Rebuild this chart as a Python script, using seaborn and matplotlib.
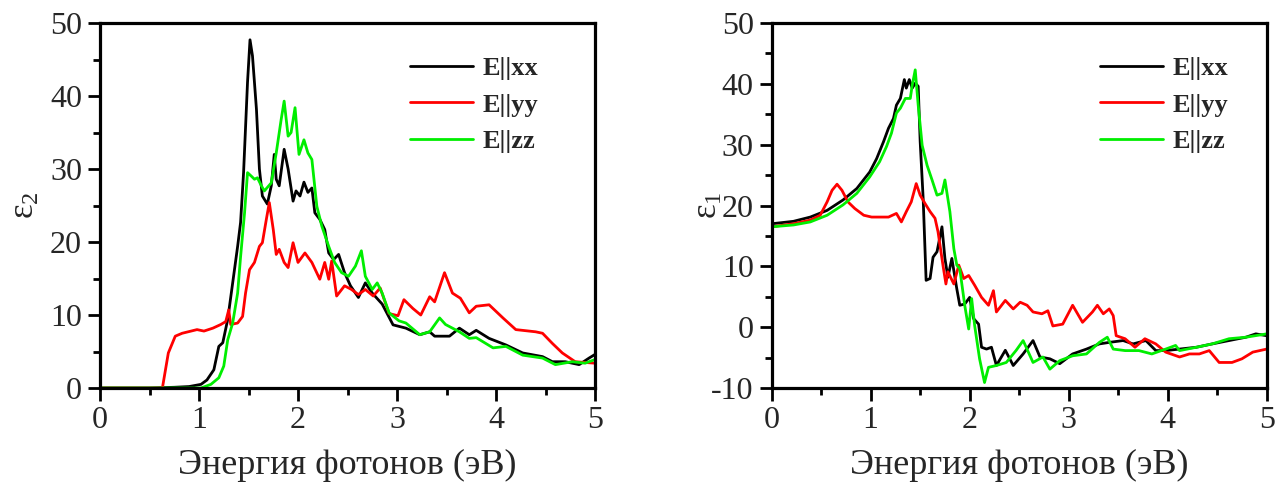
import matplotlib
matplotlib.use("Agg")
import matplotlib.pyplot as plt
import seaborn as sns
import pandas as pd
from matplotlib.ticker import MultipleLocator

# ---------------- data: eps2 (left panel) ----------------
e2_xx_E = [0, 0.5, 0.75, 0.9, 1.02, 1.08, 1.15, 1.2, 1.24, 1.29, 1.34, 1.39, 1.42, 1.45, 1.49, 1.515, 1.54,
           1.58, 1.61, 1.64, 1.69, 1.73, 1.76, 1.78, 1.81, 1.86, 1.90, 1.95, 1.98, 2.02, 2.06, 2.10, 2.14,
           2.17, 2.22, 2.27, 2.31, 2.36, 2.41, 2.47, 2.53, 2.61, 2.68, 2.75, 2.85, 2.96, 3.09, 3.23, 3.33,
           3.38, 3.53, 3.63, 3.73, 3.80, 3.93, 4.10, 4.27, 4.47, 4.57, 4.70, 4.84, 4.94, 5.0]
e2_xx = [0, 0, 0.1, 0.2, 0.5, 1.1, 2.5, 5.7, 6.2, 9.4, 14.4, 19.4, 22.7, 29.5, 41.9, 47.7, 45.5,
         38.2, 30, 26.3, 25.2, 27.7, 32, 28.6, 27.7, 32.7, 30, 25.6, 27, 26.3, 28.2, 26.8, 27.4,
         24, 23.1, 21.7, 18.5, 17.6, 18.3, 15.8, 14, 12.4, 14.4, 13, 11.5, 8.65, 8.2, 7.3, 7.7,
         7.1, 7.1, 8.2, 7.3, 7.9, 6.8, 5.9, 4.8, 4.3, 3.6, 3.6, 3.2, 4.1, 4.6]

e2_yy_E = [0, 0.3, 0.63, 0.65, 0.69, 0.76, 0.83, 0.92, 0.98, 1.05, 1.14, 1.22, 1.27, 1.30, 1.32, 1.39,
           1.44, 1.47, 1.51, 1.56, 1.61, 1.64, 1.68, 1.71, 1.75, 1.78, 1.81, 1.86, 1.90, 1.95, 2.0, 2.07,
           2.14, 2.22, 2.27, 2.31, 2.34, 2.39, 2.47, 2.54, 2.61, 2.68, 2.76, 2.83, 2.92, 3.01, 3.07, 3.16,
           3.24, 3.33, 3.38, 3.48, 3.56, 3.64, 3.73, 3.80, 3.93, 4.07, 4.20, 4.40, 4.47, 4.57, 4.67, 4.80,
           4.90, 5.0]
e2_yy = [0, 0, 0, 1.6, 4.8, 7.1, 7.5, 7.8, 8, 7.8, 8.2, 8.7, 9.1, 10.7, 8.7, 8.9,
         9.8, 13, 16.2, 17.2, 19.4, 19.9, 23.1, 25.4, 21.7, 18.3, 19, 17.2, 16.5, 19.9, 17.2, 18.5,
         17.2, 14.9, 17.2, 14.9, 17.4, 12.6, 14, 13.5, 12.8, 13.5, 12.6, 13.7, 10.2, 9.9, 12.1, 10.9,
         10, 12.5, 11.8, 15.8, 13, 12.3, 10.3, 11.2, 11.4, 9.6, 8, 7.7, 7.5, 6.1, 4.8, 3.6,
         3.5, 3.4]

e2_zz_E = [0, 0.5, 1.02, 1.12, 1.20, 1.25, 1.29, 1.34, 1.39, 1.42, 1.46, 1.49, 1.53, 1.56, 1.59, 1.63,
           1.66, 1.73, 1.78, 1.83, 1.86, 1.90, 1.93, 1.97, 2.01, 2.06, 2.10, 2.14, 2.19, 2.24, 2.31, 2.37,
           2.44, 2.51, 2.58, 2.64, 2.68, 2.75, 2.80, 2.85, 2.92, 3.02, 3.09, 3.23, 3.33, 3.43, 3.49, 3.63,
           3.73, 3.80, 3.97, 4.10, 4.27, 4.47, 4.60, 4.77, 4.90, 5.0]
e2_zz = [0, 0, 0, 0.5, 1.4, 3, 6.6, 8.9, 13, 18, 24, 29.5, 29, 28.6, 28.8, 27.7,
         27, 28.1, 32.2, 36.8, 39.3, 34.5, 35, 38.4, 32, 34, 32.2, 31.3, 24.9, 22.2, 19.4, 17.2,
         15.8, 15.3, 16.7, 18.8, 15.3, 13.5, 14.4, 13, 10.3, 9.2, 8.9, 7.3, 7.7, 9.6, 8.7, 7.7,
         6.8, 6.9, 5.5, 5.7, 4.5, 4.1, 3.2, 3.6, 3.4, 3.9]

# ---------------- data: eps1 (right panel) ----------------
e1_xx_E = [0, 0.22, 0.39, 0.56, 0.72, 0.86, 0.99, 1.06, 1.13, 1.18, 1.23, 1.26, 1.30, 1.34, 1.36, 1.39,
           1.42, 1.45, 1.48, 1.50, 1.53, 1.56, 1.60, 1.63, 1.67, 1.72, 1.75, 1.78, 1.82, 1.87, 1.90, 1.95,
           2.0, 2.04, 2.09, 2.12, 2.17, 2.22, 2.27, 2.36, 2.44, 2.54, 2.64, 2.71, 2.81, 2.91, 3.04, 3.18,
           3.31, 3.41, 3.55, 3.65, 3.78, 3.88, 3.98, 4.12, 4.29, 4.45, 4.62, 4.79, 4.89, 5.0]
e1_xx = [17.0, 17.4, 18.1, 19.2, 20.9, 22.8, 25.5, 27.7, 30.5, 32.7, 34.3, 36.5, 37.6, 40.7, 39.3, 40.7,
         39.3, 40.1, 39.6, 30.5, 21.2, 7.7, 8, 11.5, 12.4, 16.5, 11.3, 8.2, 11.3, 6.3, 3.6, 3.8,
         4.9, 1.4, 0.5, -3.3, -3.6, -3.3, -6.3, -3.8, -6.3, -4.4, -2.2, -4.9, -5.2, -6.0, -4.4, -3.6,
         -2.75, -2.5, -2.2, -2.75, -2.2, -3.85, -3.85, -3.6, -3.3, -2.75, -2.2, -1.65, -1.1, -1.4]

e1_yy_E = [0, 0.22, 0.39, 0.49, 0.56, 0.61, 0.66, 0.71, 0.77, 0.84, 0.93, 1.01, 1.09, 1.18, 1.26, 1.31,
           1.36, 1.41, 1.46, 1.50, 1.55, 1.60, 1.65, 1.68, 1.73, 1.76, 1.78, 1.84, 1.89, 1.94, 1.99, 2.05,
           2.12, 2.19, 2.24, 2.27, 2.36, 2.44, 2.51, 2.58, 2.64, 2.73, 2.79, 2.84, 2.94, 3.04, 3.14, 3.24,
           3.29, 3.35, 3.41, 3.45, 3.48, 3.57, 3.67, 3.77, 3.88, 3.98, 4.12, 4.22, 4.32, 4.42, 4.52, 4.65,
           4.75, 4.86, 5.0]
e1_yy = [16.5, 17, 17.6, 18.4, 20.6, 22.5, 23.5, 22.5, 20.6, 19.5, 18.4, 18.1, 18.1, 18.1, 18.7, 17.3,
         19, 20.6, 23.6, 21.7, 20.3, 19, 17.9, 15.7, 10.2, 7.1, 9.1, 7.1, 10.2, 8, 8.5, 6.9,
         4.9, 3.6, 6, 2.5, 4.4, 3, 4.1, 3.6, 2.5, 2.2, 2.7, 0.2, 0.5, 3.6, 0.8, 2.5,
         3.6, 2.2, 3, 1.9, -1.4, -1.9, -3.3, -1.9, -2.75, -4.1, -4.9, -4.4, -4.4, -3.85, -5.8, -5.8,
         -5.2, -4.1, -3.6]

e1_zz_E = [0, 0.22, 0.39, 0.56, 0.72, 0.86, 0.99, 1.09, 1.16, 1.21, 1.26, 1.30, 1.35, 1.40, 1.42, 1.45,
           1.48, 1.52, 1.57, 1.62, 1.67, 1.72, 1.75, 1.80, 1.84, 1.87, 1.90, 1.95, 1.99, 2.02, 2.05, 2.10,
           2.15, 2.19, 2.27, 2.37, 2.47, 2.54, 2.64, 2.74, 2.81, 2.91, 3.04, 3.18, 3.31, 3.39, 3.45, 3.57,
           3.71, 3.84, 3.98, 4.08, 4.12, 4.29, 4.45, 4.62, 4.79, 5.0]
e1_zz = [16.5, 16.8, 17.3, 18.4, 20.1, 22, 24.7, 27.2, 29.7, 31.9, 35.2, 36, 37.6, 37.6, 39.8, 42.3,
         36.5, 29.9, 26.6, 24.2, 21.7, 22, 24.2, 19, 12.9, 10.2, 9.6, 3.6, -0.3, 4.7, 0.3, -5.2,
         -9.1, -6.6, -6.3, -5.8, -3.8, -2.2, -5.8, -4.9, -6.9, -5.5, -4.7, -4.4, -2.5, -1.65, -3.6, -3.85,
         -3.85, -4.4, -3.6, -3, -3.85, -3.3, -2.75, -1.9, -1.65, -1.1]

labels = ["E||xx", "E||yy", "E||zz"]
colors = ["#000000", "#ff0000", "#00ee00"]
xlabel_text = "Энергия фотонов (эВ)"

# ---------------- style ----------------
sns.set_style("ticks")
plt.rcParams["font.family"] = ["Liberation Serif", "DejaVu Serif"]
plt.rcParams["mathtext.fontset"] = "custom"
plt.rcParams["mathtext.rm"] = "Liberation Serif"
plt.rcParams["mathtext.it"] = "Liberation Serif"
plt.rcParams["axes.unicode_minus"] = False

fig = plt.figure(figsize=(12.84, 4.97), dpi=100)
ax1 = fig.add_axes([0.0779, 0.2193, 0.3855, 0.7344])
ax2 = fig.add_axes([0.6010, 0.2193, 0.3855, 0.7344])


def draw(ax, series, ylim, ylabel, leg_x, ypad):
    for (xs, ys), lab, col in zip(series, labels, colors):
        df = pd.DataFrame({"E": xs, "v": ys})
        sns.lineplot(data=df, x="E", y="v", ax=ax, color=col, lw=2.0,
                     label=lab, estimator=None, sort=False)
    ax.set_xlim(0, 5)
    ax.set_ylim(*ylim)
    ax.xaxis.set_major_locator(MultipleLocator(1))
    ax.xaxis.set_minor_locator(MultipleLocator(0.5))
    ax.yaxis.set_major_locator(MultipleLocator(10))
    ax.yaxis.set_minor_locator(MultipleLocator(5))
    ax.tick_params(which="major", direction="out", length=9, width=2.0,
                   labelsize=23, top=False, right=False, pad=4, color="black")
    ax.tick_params(which="minor", direction="out", length=5, width=2.0,
                   top=False, right=False, color="black")
    for sp in ax.spines.values():
        sp.set_linewidth(2.3)
        sp.set_color("black")
        sp.set_visible(True)
    ax.set_xlabel(xlabel_text, fontsize=26, labelpad=10)
    ax.set_ylabel(ylabel, fontsize=25, labelpad=ypad)
    leg = ax.legend(loc="upper left", bbox_to_anchor=(leg_x, 0.908), frameon=False,
                    borderpad=0, borderaxespad=0, handlelength=2.4, handletextpad=0.35,
                    labelspacing=0.50, prop={"weight": "bold", "size": 19,
                                              "family": "Liberation Serif"})
    for line in leg.get_lines():
        line.set_linewidth(2.0)


draw(ax1, [(e2_xx_E, e2_xx), (e2_yy_E, e2_yy), (e2_zz_E, e2_zz)], (0, 50), "ε$_2$", 0.626, 6)
draw(ax2, [(e1_xx_E, e1_xx), (e1_yy_E, e1_yy), (e1_zz_E, e1_zz)], (-10, 50), "ε$_1$", 0.663, -10)

fig.savefig("out.png", dpi=100, facecolor="white")
